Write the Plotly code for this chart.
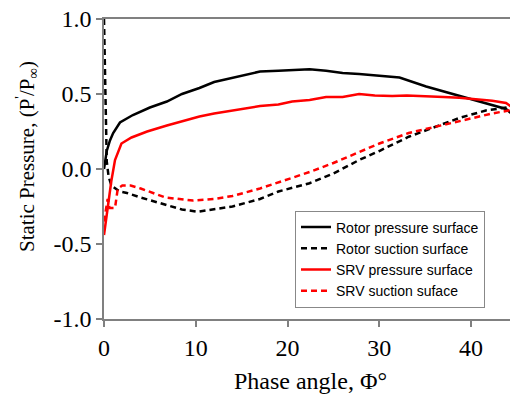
import plotly.graph_objects as go

# Rotor pressure surface (black solid)
rp_x = [0, 0.1, 0.3, 0.65, 1.0, 1.74, 2.5, 3.15, 5, 6.85, 8.5, 10.4, 12, 14, 15.5, 17, 19, 20.5, 22.4, 24.2, 26, 27.8, 30, 32.2, 35.1, 38.7, 41.6, 43.8, 45]
rp_y = [0.0, 0.05, 0.12, 0.19, 0.24, 0.31, 0.34, 0.36, 0.41, 0.45, 0.50, 0.54, 0.58, 0.61, 0.63, 0.65, 0.655, 0.66, 0.665, 0.655, 0.64, 0.633, 0.62, 0.61, 0.55, 0.49, 0.44, 0.40, 0.34]

# Rotor suction surface (black dashed)
rs_x = [0, 0.15, 0.3, 0.5, 0.8, 1.7, 2.5, 4, 6.7, 8.5, 10.2, 12, 14, 17, 19, 22.4, 25, 27.8, 30, 33.2, 36, 38.7, 41.6, 45]
rs_y = [1.0, 0.5, 0.05, -0.05, -0.11, -0.15, -0.16, -0.19, -0.24, -0.27, -0.285, -0.27, -0.25, -0.2, -0.15, -0.095, -0.03, 0.06, 0.12, 0.215, 0.28, 0.34, 0.39, 0.42]

# SRV pressure surface (red solid)
sp_x = [0, 0.2, 0.47, 0.8, 1.2, 1.9, 3, 4.7, 6.85, 8, 10.4, 12, 14, 15.5, 17, 19, 20.5, 22.4, 24.2, 26, 27.8, 29.5, 31.4, 33, 35.1, 37, 38.7, 40.5, 42.3, 43.8, 44.5, 45]
sp_y = [-0.44, -0.35, -0.21, -0.08, 0.06, 0.17, 0.21, 0.25, 0.29, 0.31, 0.35, 0.37, 0.39, 0.40, 0.42, 0.43, 0.45, 0.46, 0.48, 0.48, 0.50, 0.49, 0.487, 0.49, 0.487, 0.48, 0.475, 0.465, 0.455, 0.44, 0.41, 0.35]

# SRV suction surface (red dashed)
ss_x = [0, 0.4, 0.6, 0.8, 1.2, 1.5, 2.0, 2.9, 4.0, 6.7, 9.7, 12, 14, 17, 19, 22.4, 25, 27.8, 30, 33.2, 36, 38.7, 42.3, 45]
ss_y = [-0.35, -0.2, -0.26, -0.26, -0.26, -0.13, -0.11, -0.11, -0.13, -0.19, -0.21, -0.20, -0.18, -0.13, -0.09, -0.02, 0.04, 0.115, 0.17, 0.24, 0.28, 0.315, 0.37, 0.40]

x_ticks = [0, 10, 20, 30, 40]
y_ticks = [-1.0, -0.5, 0.0, 0.5, 1.0]
y_tick_text = ["-1.0", "-0.5", "0.0", "0.5", "1.0"]

fig = go.Figure()
fig.add_trace(go.Scatter(x=rp_x, y=rp_y, mode="lines", name="Rotor pressure surface",
                         line=dict(color="black", width=2.5)))
fig.add_trace(go.Scatter(x=rs_x, y=rs_y, mode="lines", name="Rotor suction surface",
                         line=dict(color="black", width=2.5, dash="6px,4px")))
fig.add_trace(go.Scatter(x=sp_x, y=sp_y, mode="lines", name="SRV pressure surface",
                         line=dict(color="#ff0000", width=2.5)))
fig.add_trace(go.Scatter(x=ss_x, y=ss_y, mode="lines", name="SRV suction suface",
                         line=dict(color="#ff0000", width=2.5, dash="6px,4px")))

serif = "Liberation Serif, Times New Roman, serif"
fig.update_layout(
    width=510, height=386,
    margin=dict(l=96, r=1, t=11, b=75, autoexpand=False),
    paper_bgcolor="white", plot_bgcolor="white",
    showlegend=True,
    legend=dict(x=0.6925, y=0.2, xanchor="center", yanchor="middle",
                bgcolor="white", bordercolor="#888888", borderwidth=1,
                font=dict(family="Liberation Sans, Arial, sans-serif", size=14, color="black"),
                tracegroupgap=0),
    xaxis=dict(range=[0, 45], tickvals=x_ticks, ticks="outside", ticklen=6, tickwidth=1.5,
               tickcolor="#808080", showline=True, linecolor="#808080", linewidth=1.5,
               mirror=True, showgrid=False, zeroline=False, automargin=False,
               ticklabeloverflow="allow",
               tickfont=dict(family=serif, size=24, color="black"),
               title=dict(text="Phase angle, Φ°", font=dict(family=serif, size=24, color="black"))),
    yaxis=dict(range=[-1.0, 1.0], tickvals=y_ticks, ticktext=y_tick_text, ticks="outside", ticklen=6,
               tickwidth=1.5, tickcolor="#808080", showline=True, linecolor="#808080",
               linewidth=1.5, mirror=True, showgrid=False, zeroline=False, automargin=False,
               ticklabeloverflow="allow",
               tickfont=dict(family=serif, size=24, color="black")),
    annotations=[dict(text="Static Pressure, (P<sup>'</sup>/P<sub>∞</sub>)",
                      xref="paper", yref="paper", x=-0.189, y=0.543,
                      xanchor="center", yanchor="middle", textangle=-90, showarrow=False,
                      font=dict(family=serif, size=21, color="black"))],
)

fig.write_html("out.html")
